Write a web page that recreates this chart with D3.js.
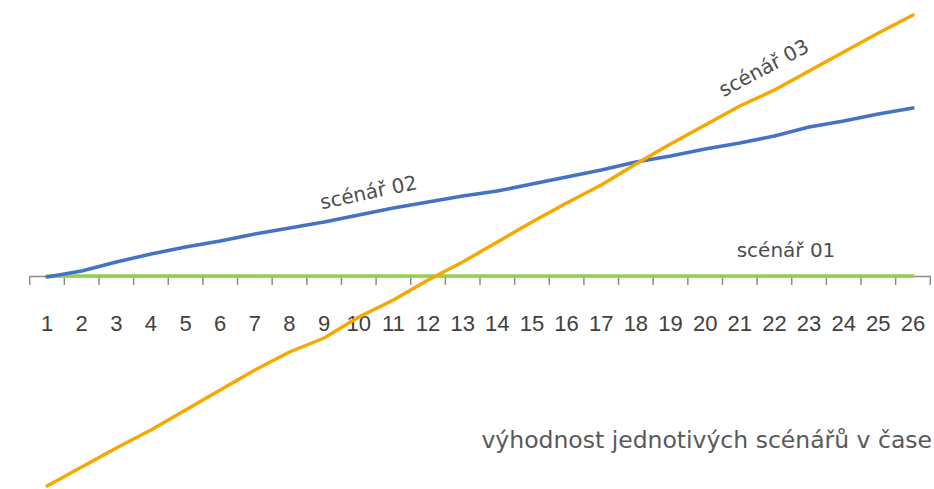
<!DOCTYPE html>
<html>
<head>
<meta charset="utf-8">
<script src="https://cdn.jsdelivr.net/npm/d3@7"></script>
<style>
  html, body { margin: 0; padding: 0; background: #fff; }
  svg { display: block; }
</style>
</head>
<body>
<div id="chart"></div>
<script>
// Chart data
const categories = ['1','2','3','4','5','6','7','8','9','10','11','12','13','14','15','16','17','18','19','20','21','22','23','24','25','26'];
const scenar01 = [0,0,0,0,0,0,0,0,0,0,0,0,0,0,0,0,0,0,0,0,0,0,0,0,0,0];
const scenar02 = [-1,5,14,22,29,35,42,48,54,61,68,74,80,85,92,99,106,114,120,127,133,140,149,155,162,168];
const scenar03 = [-210,-191,-172,-154,-134,-114,-94,-76,-62,-41,-24,-4,14,34,54,73,91,112,132,151,170,186,205,224,243,261];
const seriesNames = ['scénář 01', 'scénář 02', 'scénář 03'];
const chartTitle = 'výhodnost jednotivých scénářů v čase';

const width = 934, height = 489;
const colors = ['#92D050', '#4472C4', '#F7A800'];

const svg = d3.select('#chart')
  .append('svg')
  .attr('width', width)
  .attr('height', height);

// Scales
const x = d3.scaleBand()
  .domain(categories)
  .range([29.7, 930.3]);

const y = d3.scaleLinear()
  .domain([-215, 265])
  .range([491, 11]);

const cx = d => x(d) + x.bandwidth() / 2;

// Category axis (labels only, ticks drawn between categories)
const axis = svg.append('g')
  .attr('transform', `translate(0,${y(0)})`)
  .call(d3.axisBottom(x).tickSize(0).tickPadding(0));

axis.select('.domain')
  .attr('stroke', '#8c8c8c')
  .attr('stroke-width', 1.5);

axis.selectAll('text')
  .attr('y', 55)
  .attr('dy', 0)
  .style('font-family', '"Liberation Sans", sans-serif')
  .style('font-size', '22px')
  .style('fill', '#404040');

// Tick marks at category boundaries
const boundaries = categories.map(d => x(d)).concat([x.range()[1]]);
axis.selectAll('.bound')
  .data(boundaries)
  .enter()
  .append('line')
  .attr('class', 'bound')
  .attr('x1', d => d)
  .attr('x2', d => d)
  .attr('y1', 0)
  .attr('y2', 9)
  .attr('stroke', '#8c8c8c')
  .attr('stroke-width', 1.5);

// Lines
const line = d3.line()
  .x((d, i) => cx(categories[i]))
  .y(d => y(d));

[scenar01, scenar02, scenar03].forEach((values, i) => {
  svg.append('path')
    .datum(values)
    .attr('fill', 'none')
    .attr('stroke', colors[i])
    .attr('stroke-width', 3.5)
    .attr('stroke-linecap', 'round')
    .attr('stroke-linejoin', 'round')
    .attr('d', line);
});

// Series labels
const labelFont = '"DejaVu Sans", sans-serif';
const labels = [
  { text: seriesNames[0], x: 786, y: 257, angle: 0 },
  { text: seriesNames[1], x: 370, y: 199, angle: -12 },
  { text: seriesNames[2], x: 767, y: 74, angle: -28 }
];

labels.forEach(l => {
  svg.append('text')
    .attr('transform', `translate(${l.x},${l.y}) rotate(${l.angle})`)
    .attr('text-anchor', 'middle')
    .style('font-family', labelFont)
    .style('font-size', '20px')
    .style('fill', '#4d4d4d')
    .text(l.text);
});

// Title at bottom right
svg.append('text')
  .attr('x', 932)
  .attr('y', 448)
  .attr('text-anchor', 'end')
  .style('font-family', labelFont)
  .style('font-size', '23.5px')
  .style('fill', '#595959')
  .text(chartTitle);
</script>
</body>
</html>
